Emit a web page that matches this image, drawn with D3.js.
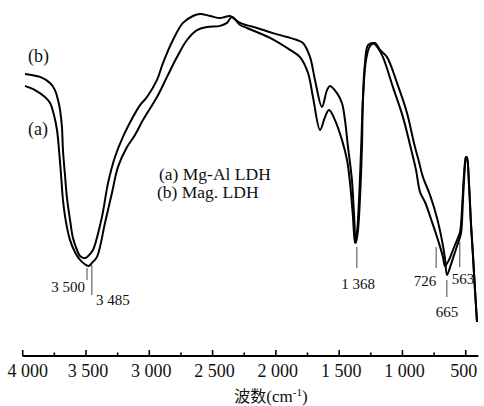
<!DOCTYPE html>
<html><head><meta charset="utf-8">
<script src="https://cdn.jsdelivr.net/npm/d3@7"></script>
<style>body{margin:0;background:#fff}svg{display:block}</style>
</head><body><svg id="c" width="484" height="406"></svg>
<script>
// Curve (a) Mg-Al LDH: wavenumber (cm-1), relative transmittance
const waveA = [3982,3903,3824,3784,3753,3729,3713,3697,3682,3658,3626,3587,3547,3480,3453,3413,3350,3295,3247,3176,3113,3050,2939,2860,2781,2702,2623,2544,2441,2386,2347,2283,2228,2046,1888,1809,1746,1707,1651,1612,1580,1533,1478,1438,1414,1391,1375,1359,1343,1327,1312,1288,1256,1217,1177,1122,1043,964,909,869,838,782,727,688,664,648,616,585,553,537,522,506,498,490,474,458,443,427,411];
const transA = [86.7,85.3,83,81,77,72,65.3,57,48.7,41.3,35.3,31.3,28.7,26.7,27.7,29.7,41,51,59.7,66.3,70.3,75.3,83,89.7,96.3,102,105.3,106.3,106.7,107.7,109.7,107,106,102.7,98.7,96.3,91,83,72,76.3,78.7,75.3,68.7,62,54.3,43,34.3,38,48.7,65.3,82,95.3,100,101,98.7,96.3,87.7,77.7,67.7,61.3,56.3,50.3,42.7,35.3,29.3,23.7,27.3,31.3,35.3,37.7,48.7,60.3,63,62.7,53.7,40.3,30.3,18.7,8];
// Curve (b) Mag. LDH
const waveB = [3982,3863,3784,3745,3721,3705,3690,3682,3666,3650,3626,3603,3571,3547,3505,3476,3445,3374,3326,3271,3208,3129,3073,3018,2939,2892,2813,2734,2655,2599,2520,2441,2402,2362,2283,2149,2023,1912,1833,1786,1730,1691,1636,1596,1572,1517,1478,1454,1430,1399,1383,1368,1351,1335,1320,1312,1296,1272,1233,1193,1154,1075,996,940,893,861,822,766,719,680,664,632,601,569,545,530,514,498,490,474,458,443,427,411];
const transB = [90.7,89.7,87.7,85.3,82,78.7,73,65.3,57,49.3,42,36,32,30,29.3,30.3,32,43,54.3,63,69.7,76.3,80.3,83,88.7,94.3,102,107.7,110,110.7,110,109.3,109.7,110,107.7,106,104.3,103,102,101,96.3,88.7,79.7,85.3,86.7,84.3,81,75.3,66.3,55.3,44.3,34.3,38.7,49.7,66.3,83,94.3,100.3,101,99.3,96.3,86.3,76.3,67,58.7,51.3,48,41.3,35.3,29.7,26.7,28.7,32,35.3,38,45.3,57,63,62.7,53.7,40.3,30.3,18.7,8];
const tickValues = [4000,3500,3000,2500,2000,1500,1000,500];
const tickLabels = ["4 000","3 500","3 000","2 500","2 000","1 500","1 000","500"];
const minorTicks = [3750,3250,2750,2250,1750,1250,750];
const peakLabels = ["3 500","3 485","1 368","726","665","563"];
const peakWaves = [3500,3485,1368,726,665,563];
const legendLines = ["(a) Mg-Al LDH","(b) Mag. LDH"];
const curveTags = ["(b)","(a)"];

const SERIF = "Liberation Serif, Times New Roman, DejaVu Serif, serif";
const svg = d3.select("#c");
const x = d3.scaleLinear().domain([4000,400]).range([22.7,478.4]);
const y = d3.scaleLinear().domain([0,110]).range([346,16]);
const line = d3.line().x(d=>x(d[0])).y(d=>y(d[1])).curve(d3.curveCatmullRom.alpha(0.5));

[[waveA,transA],[waveB,transB]].forEach(([w,t])=>{
  svg.append("path").datum(w.map((v,i)=>[v,t[i]])).attr("d",line)
    .attr("fill","none").attr("stroke","#000").attr("stroke-width",2).attr("stroke-linejoin","round");
});

// axis
const axisY = 356;
const g = svg.append("g").attr("transform",`translate(0,${axisY})`);
g.append("line").attr("x1",x(4000)).attr("x2",x(400)).attr("y1",0).attr("y2",0).attr("stroke","#000").attr("stroke-width",2);
g.selectAll(".maj").data(tickValues).join("line").attr("x1",d=>x(d)).attr("x2",d=>x(d)).attr("y1",0).attr("y2",-6).attr("stroke","#000").attr("stroke-width",1.6);
g.selectAll(".min").data(minorTicks).join("line").attr("x1",d=>x(d)).attr("x2",d=>x(d)).attr("y1",0).attr("y2",-3.5).attr("stroke","#000").attr("stroke-width",1.6);
g.selectAll(".lab").data(tickValues).join("text").attr("x",(d,i)=>x(d)+(i===0?5:(i===7?-2:2))).attr("y",21)
  .attr("text-anchor","middle").attr("font-family",SERIF).attr("font-size",18).attr("fill","#111").text((d,i)=>tickLabels[i]);

const title = svg.append("text").attr("x",271).attr("y",402).attr("text-anchor","middle").attr("font-family",SERIF).attr("font-size",17).attr("fill","#111");
title.append("tspan").attr("font-family","Noto Sans CJK SC").attr("font-size",16).text("波数");
title.append("tspan").text("(cm");
title.append("tspan").attr("font-size",11).attr("dy",-6).text("-1");
title.append("tspan").attr("dy",6).text(")");

// peak markers
const mk = [
  {dx:1,y1:268,y2:280,tx:85,ty:292,anchor:"end"},
  {dx:4,y1:265,y2:295,tx:96,ty:305,anchor:"start"},
  {dx:1,y1:247,y2:268,tx:358,ty:289,anchor:"middle"},
  {dx:-1,y1:247,y2:268,tx:425,ty:286,anchor:"middle"},
  {dx:2,y1:280,y2:297,tx:447,ty:317,anchor:"middle"},
  {dx:2,y1:242,y2:267,tx:463,ty:284,anchor:"middle"}
];
peakWaves.forEach((w,i)=>{
  const m = mk[i];
  svg.append("line").attr("x1",x(w)+m.dx).attr("x2",x(w)+m.dx).attr("y1",m.y1).attr("y2",m.y2).attr("stroke","#444").attr("stroke-width",1);
  svg.append("text").attr("x",m.tx).attr("y",m.ty).attr("text-anchor",m.anchor).attr("font-family",SERIF).attr("font-size",15).attr("fill","#111").text(peakLabels[i]);
});

// legend
legendLines.forEach((s,i)=>svg.append("text").attr("x",i===0?159:157).attr("y",180+i*18).attr("font-family",SERIF).attr("font-size",17.5).attr("fill","#111").text(s));
svg.append("text").attr("x",28).attr("y",62).attr("font-family",SERIF).attr("font-size",18).attr("fill","#111").text(curveTags[0]);
svg.append("text").attr("x",28).attr("y",135).attr("font-family",SERIF).attr("font-size",18).attr("fill","#111").text(curveTags[1]);
</script></body></html>
